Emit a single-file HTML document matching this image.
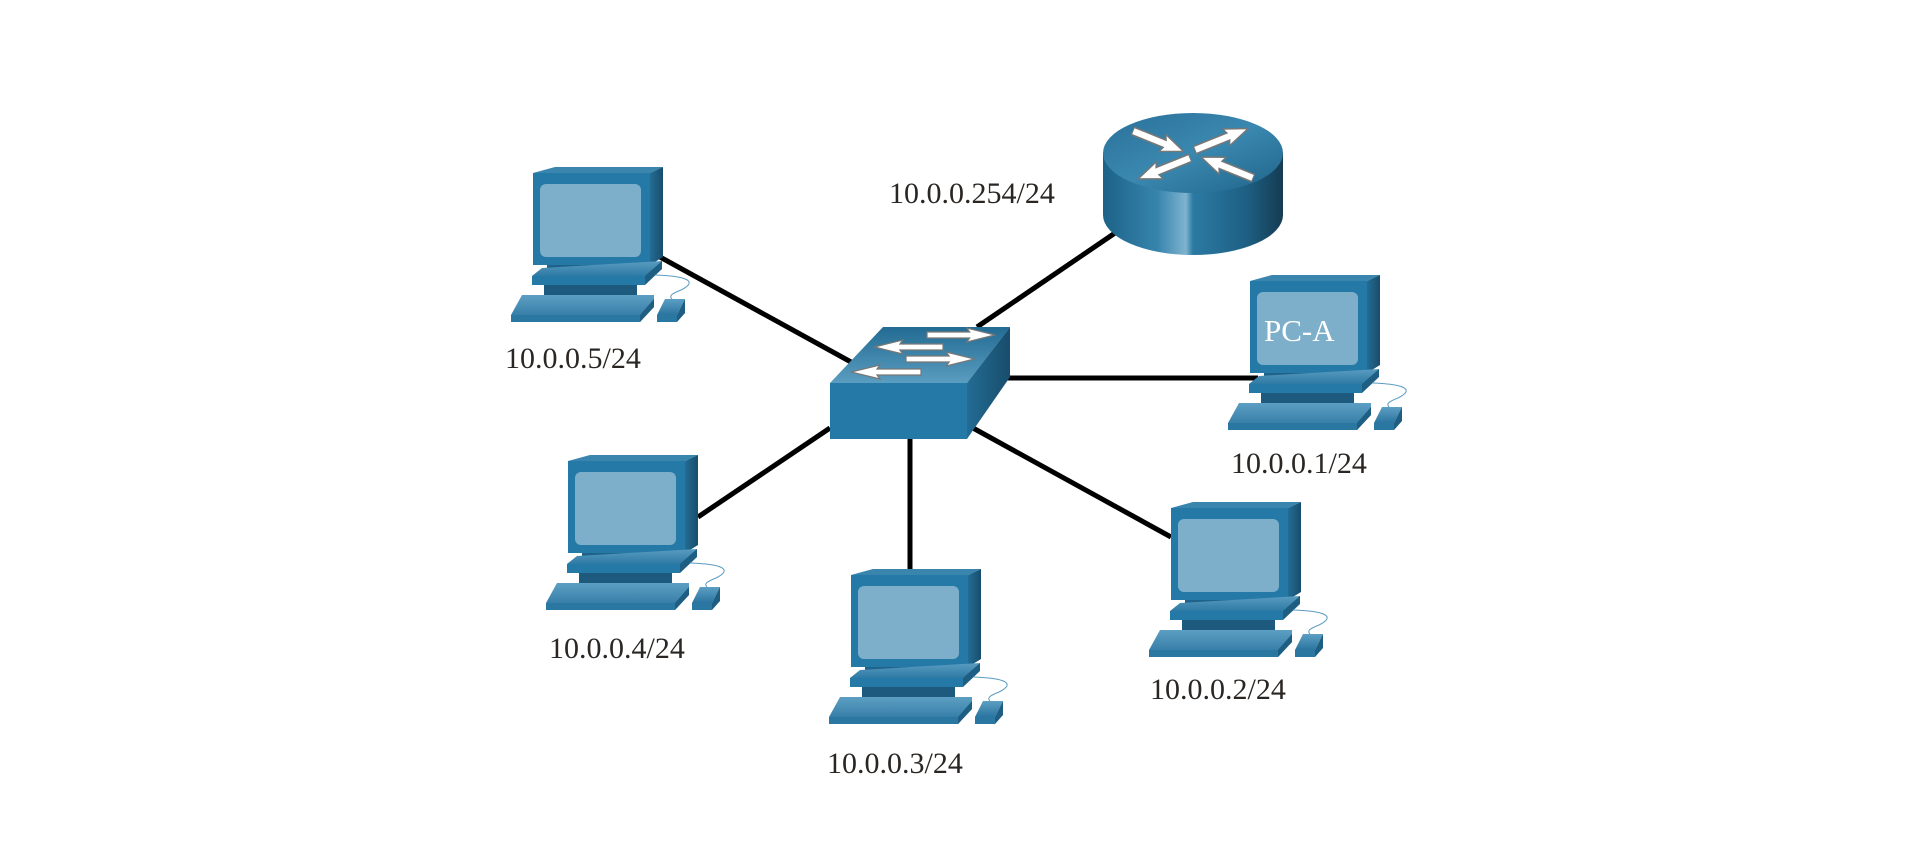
<!DOCTYPE html>
<html><head><meta charset="utf-8"><style>
html,body{margin:0;padding:0;background:#fff;}
svg{display:block;}
text{font-family:"Liberation Serif",serif;}
</style></head><body>
<svg width="1920" height="848" viewBox="0 0 1920 848" xmlns="http://www.w3.org/2000/svg">
<defs>
<linearGradient id="kb" x1="0" y1="0" x2="0" y2="1"><stop offset="0" stop-color="#5d9fc3"/><stop offset="1" stop-color="#2a74a0"/></linearGradient>
<linearGradient id="pl" x1="0" y1="0" x2="0" y2="1"><stop offset="0" stop-color="#5a9cc0"/><stop offset="1" stop-color="#2e7aa5"/></linearGradient>
<linearGradient id="sdg" x1="0" y1="0" x2="1" y2="0"><stop offset="0" stop-color="#236c94"/><stop offset="1" stop-color="#184d6c"/></linearGradient>
<linearGradient id="swtop" x1="0" y1="0" x2="0" y2="1"><stop offset="0" stop-color="#226b93"/><stop offset="1" stop-color="#5a9dc0"/></linearGradient>
<linearGradient id="rside" x1="0" y1="0" x2="1" y2="0">
<stop offset="0" stop-color="#1d6288"/><stop offset="0.3" stop-color="#3684ad"/><stop offset="0.46" stop-color="#7fb3cf"/><stop offset="0.5" stop-color="#2b7aa3"/><stop offset="0.8" stop-color="#1e5f83"/><stop offset="1" stop-color="#153b52"/></linearGradient>
<linearGradient id="rtop" x1="0" y1="0" x2="1" y2="1"><stop offset="0" stop-color="#2a7099"/><stop offset="0.5" stop-color="#3a88b0"/><stop offset="1" stop-color="#1f6388"/></linearGradient>
<g id="pc">
<polygon points="22,6 44,0 152,0 139,6" fill="#3a85ad"/>
<polygon points="139,6 152,0 152,90 139,98" fill="url(#sdg)"/>
<rect x="22" y="6" width="117" height="92" fill="#2479a6"/>
<rect x="29" y="17" width="101" height="73" rx="6" fill="#7eafca"/>
<rect x="36" y="98" width="99" height="5" fill="#1f628a"/>
<polygon points="21,109 31,101 151,94 151,101 134,109" fill="url(#pl)"/>
<polygon points="134,109 151,94 151,102 134,118" fill="#1d5e82"/>
<rect x="21" y="109" width="113" height="9" fill="#2479a6"/>
<rect x="33" y="118" width="93" height="10" fill="#1d5a7e"/>
<polygon points="0,148 11,128 143,128 143,140 129,155 0,155" fill="url(#kb)"/>
<polygon points="129,148 143,132 143,140 129,155" fill="#1d5e82"/>
<rect x="0" y="148" width="129" height="7" fill="#2a77a2"/>
<polygon points="154,132 174,132 166,148 146,148" fill="url(#kb)"/>
<polygon points="166,148 174,132 174,146 166,155" fill="#1d5e82"/>
<rect x="146" y="148" width="20" height="7" fill="#2a77a2"/>
<path d="M144,108 C175,109 188,114 170,123 C160,127 158,129 161,132" fill="none" stroke="#5b9cc2" stroke-width="1"/>
</g>
<g id="ar"><polygon points="0,-3 44,-3 41,-7 70,0 41,7 44,3 0,3" fill="#fff" stroke="#777" stroke-width="1.2"/></g>
</defs>

<g stroke="#000" stroke-width="5" stroke-linecap="butt">
<line x1="660" y1="257" x2="851" y2="362"/>
<line x1="1115" y1="233" x2="977" y2="327"/>
<line x1="1005" y1="378" x2="1258" y2="378"/>
<line x1="830" y1="428" x2="698" y2="517"/>
<line x1="910" y1="435" x2="910" y2="569"/>
<line x1="973" y1="428" x2="1171" y2="537"/>
</g>

<polygon points="830,383 883,327 1010,327 967,383" fill="url(#swtop)"/>
<polygon points="967,383 1010,327 1010,377 967,439" fill="url(#sdg)"/>
<rect x="830" y="383" width="137" height="56" fill="#2479a6"/>
<use href="#ar" transform="translate(927,335) scale(0.97,1)"/>
<use href="#ar" transform="translate(943,347) scale(-0.98,1)"/>
<use href="#ar" transform="translate(906,359) scale(0.98,1)"/>
<use href="#ar" transform="translate(921,372) scale(-1.0,1)"/>

<path d="M1103,153 L1103,215 A90,40 0 0 0 1283,215 L1283,153 Z" fill="url(#rside)"/>
<ellipse cx="1193" cy="153" rx="90" ry="40" fill="url(#rtop)"/>
<use href="#ar" transform="translate(1133,131) rotate(22) scale(0.78,1.3)"/>
<use href="#ar" transform="translate(1195,150) rotate(-22) scale(0.82,1.3)"/>
<use href="#ar" transform="translate(1190,158) rotate(158) scale(0.8,1.3)"/>
<use href="#ar" transform="translate(1253,178) rotate(-158) scale(0.8,1.3)"/>

<use href="#pc" x="511" y="167"/>
<use href="#pc" x="546" y="455"/>
<use href="#pc" x="829" y="569"/>
<use href="#pc" x="1149" y="502"/>
<use href="#pc" x="1228" y="275"/>

<text x="1264" y="341" font-size="31" fill="#fff">PC-A</text>
<g font-size="30" fill="#2a2623">
<text x="889" y="203">10.0.0.254/24</text>
<text x="505" y="368">10.0.0.5/24</text>
<text x="549" y="658">10.0.0.4/24</text>
<text x="827" y="773">10.0.0.3/24</text>
<text x="1150" y="699">10.0.0.2/24</text>
<text x="1231" y="473">10.0.0.1/24</text>
</g>
</svg>
</body></html>
